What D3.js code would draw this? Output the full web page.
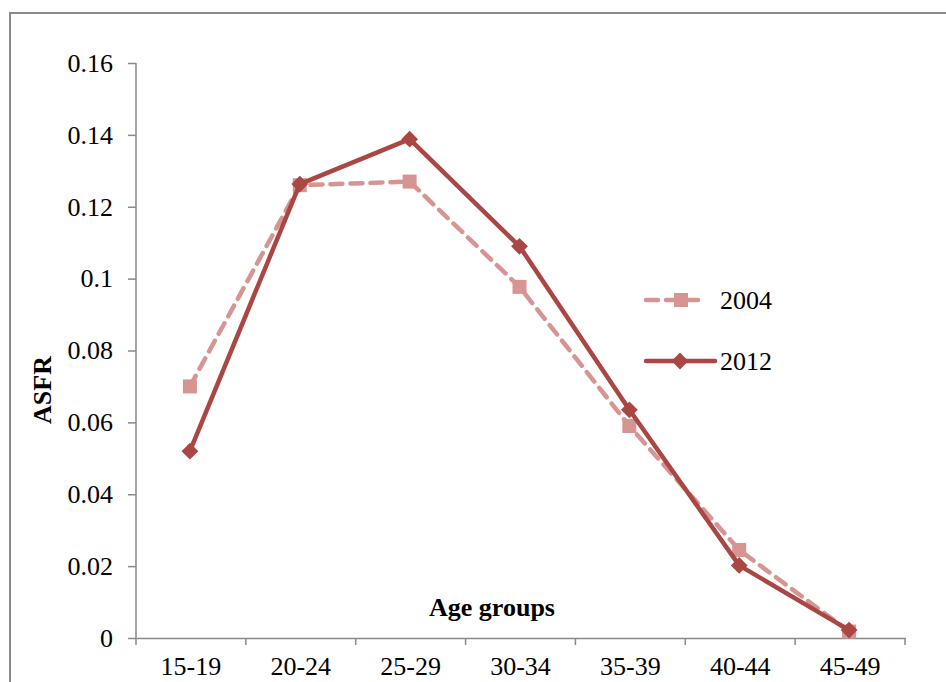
<!DOCTYPE html>
<html><head><meta charset="utf-8">
<script src="https://cdn.jsdelivr.net/npm/d3@7"></script>
<style>body{margin:0;background:#fff}svg{display:block}</style>
</head><body>
<svg id="c" width="946" height="682"></svg>
<script>
const categories = ["15-19","20-24","25-29","30-34","35-39","40-44","45-49"];
const s2004 = [0.070, 0.126, 0.127, 0.0977, 0.059, 0.0245, 0.0018];
const s2012 = [0.052, 0.1263, 0.1388, 0.109, 0.0635, 0.0202, 0.0022];
const yTicks = [0, 0.02, 0.04, 0.06, 0.08, 0.1, 0.12, 0.14, 0.16];
const seriesNames = ["2004","2012"];

const svg = d3.select("#c");
const font = "'Liberation Serif','Times New Roman',serif";
const axisCol = "#898989";
const c2004 = "#D69492", c2012 = "#AA4643";
const fs = 26;

// outer frame
svg.append("rect").attr("x",10).attr("y",13).attr("width",1000).attr("height",1000)
  .attr("fill","none").attr("stroke",axisCol).attr("stroke-width",2);

const x = d3.scaleBand().domain(categories).range([136,905]);
const y = d3.scaleLinear().domain([0,0.16]).range([638,63]);

// y axis
const ya = svg.append("g").attr("transform","translate(136,0)")
  .call(d3.axisLeft(y).tickValues(yTicks).tickSize(8).tickPadding(15).tickFormat(d=>d3.format("")(+d.toFixed(2))));
ya.select(".domain").attr("stroke",axisCol).attr("stroke-width",1.5).attr("d","M0,63V638");
ya.selectAll(".tick line").attr("stroke",axisCol).attr("stroke-width",1.5);
ya.selectAll(".tick text").attr("font-family",font).attr("font-size",fs).attr("fill","#000");

// x axis
const xa = svg.append("g").attr("transform","translate(0,638)")
  .call(d3.axisBottom(x).tickSize(0).tickPadding(19));
xa.select(".domain").attr("stroke",axisCol).attr("stroke-width",1.5);
xa.selectAll(".tick line").remove();
xa.selectAll(".tick text").attr("font-family",font).attr("font-size",fs).attr("fill","#000");
const edges = categories.map(c=>x(c)).concat([x.range()[1]]);
xa.selectAll(".edge").data(edges).join("line").attr("class","edge")
  .attr("x1",d=>d).attr("x2",d=>d).attr("y1",0).attr("y2",7)
  .attr("stroke",axisCol).attr("stroke-width",1.5);

// axis titles
svg.append("text").attr("x",492).attr("y",616).attr("text-anchor","middle")
  .attr("font-family",font).attr("font-size",fs).attr("font-weight","bold").text("Age groups");
svg.append("text").attr("transform","translate(51,390) rotate(-90)").attr("text-anchor","middle")
  .attr("font-family",font).attr("font-size",fs).attr("font-weight","bold").text("ASFR");

const cx = c => x(c) + x.bandwidth()/2 - 1;
const line = d3.line().x((d,i)=>cx(categories[i])).y(d=>y(d));

// 2004
svg.append("path").datum(s2004).attr("d",line).attr("fill","none")
  .attr("stroke",c2004).attr("stroke-width",4.5).attr("stroke-dasharray","12,8").attr("stroke-linecap","round");
svg.selectAll(".sq").data(s2004).join("rect").attr("class","sq")
  .attr("x",(d,i)=>cx(categories[i])-7).attr("y",d=>y(d)-7).attr("width",14).attr("height",14)
  .attr("fill",c2004);

// 2012
svg.append("path").datum(s2012).attr("d",line).attr("fill","none")
  .attr("stroke",c2012).attr("stroke-width",4.5).attr("stroke-linejoin","round");
const diamond = d3.symbol().type(d3.symbolDiamond2).size(180);
svg.selectAll(".dm").data(s2012).join("path").attr("class","dm")
  .attr("transform",(d,i)=>`translate(${cx(categories[i])},${y(d)})`)
  .attr("d",diamond).attr("fill",c2012);

// legend
const lg = svg.append("g");
lg.append("line").attr("x1",646).attr("x2",706).attr("y1",300).attr("y2",300)
  .attr("stroke",c2004).attr("stroke-width",4.5).attr("stroke-dasharray","12,8").attr("stroke-linecap","round");
lg.append("rect").attr("x",674).attr("y",293).attr("width",14).attr("height",14).attr("fill",c2004);
lg.append("text").attr("x",720).attr("y",309).attr("font-family",font).attr("font-size",fs).text(seriesNames[0]);
lg.append("line").attr("x1",646).attr("x2",715).attr("y1",361).attr("y2",361)
  .attr("stroke",c2012).attr("stroke-width",4.5).attr("stroke-linecap","round");
lg.append("path").attr("transform","translate(680,361)").attr("d",diamond).attr("fill",c2012);
lg.append("text").attr("x",720).attr("y",370).attr("font-family",font).attr("font-size",fs).text(seriesNames[1]);
</script>
</body></html>
